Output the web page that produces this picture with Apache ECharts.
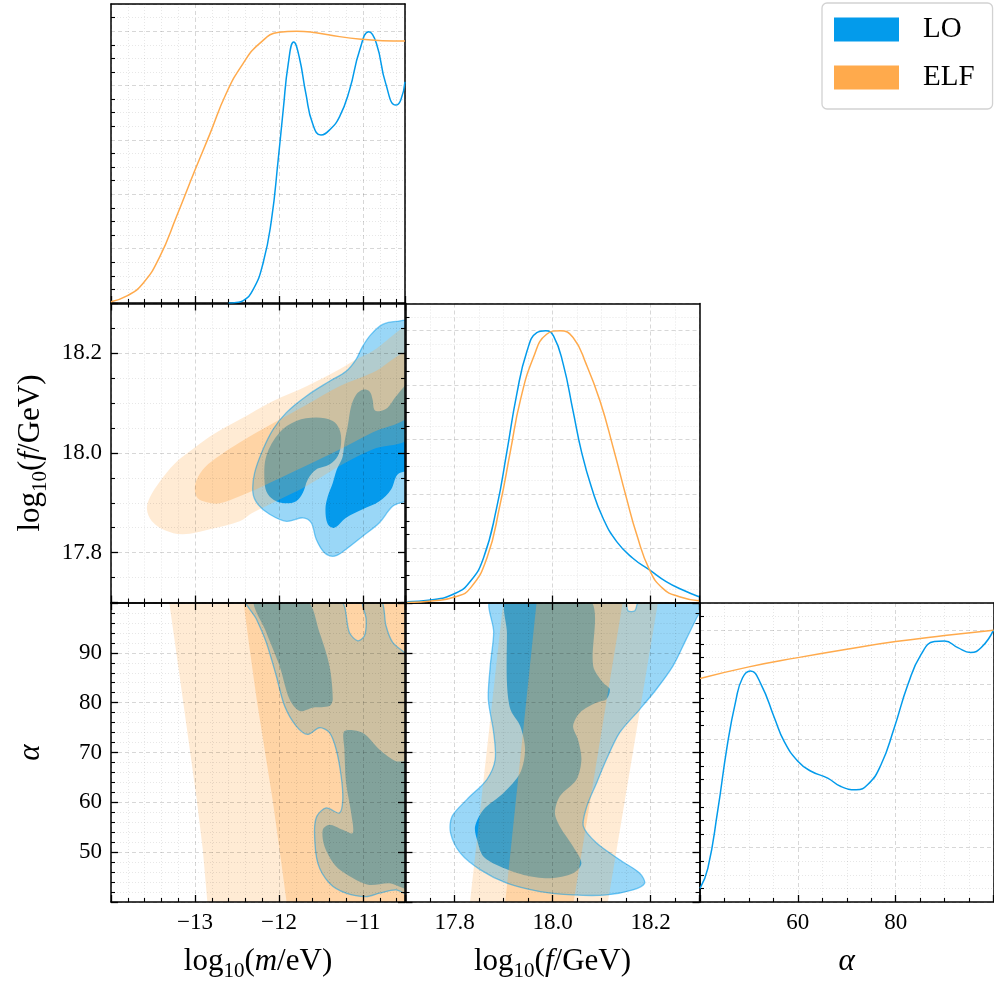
<!DOCTYPE html>
<html>
<head>
<meta charset="utf-8">
<script src="https://cdn.jsdelivr.net/npm/echarts@6/dist/echarts.min.js"></script>
<style>
  html, body { margin: 0; padding: 0; background: #fff; }
  #corner { width: 994px; height: 985px; }
</style>
</head>
<body>
<div id="corner"></div>
<script>
// tick labels
var mTicks = [-13, -12, -11];
var fTicks = [17.8, 18.0, 18.2];
var alphaTicksX = [60, 80];
var alphaTicksY = [50, 60, 70, 80, 90];

// 1D marginals: [value, normalised density]
var mLO = [[-12.6, 0], [-12.51, 0.002], [-12.43, 0.008], [-12.31, 0.048], [-12.19, 0.146],
  [-12.09, 0.305], [-12.01, 0.526], [-11.95, 0.71], [-11.89, 0.88], [-11.825, 0.96], [-11.76, 0.906],
  [-11.68, 0.77], [-11.6, 0.66], [-11.5, 0.618], [-11.4, 0.636], [-11.28, 0.685], [-11.16, 0.784],
  [-11.04, 0.93], [-10.93, 0.998], [-10.84, 0.955], [-10.73, 0.808], [-10.61, 0.728], [-10.55, 0.747],
  [-10.5, 0.814]];
var mELF = [[-14, 0.005], [-13.81, 0.026], [-13.62, 0.072], [-13.42, 0.17], [-13.22, 0.318], [-13.0, 0.489],
  [-12.82, 0.624], [-12.63, 0.77], [-12.43, 0.88], [-12.23, 0.955], [-12.0, 0.996], [-11.79, 1.0],
  [-11.56, 0.994], [-11.28, 0.98], [-11.0, 0.97], [-10.77, 0.965], [-10.5, 0.964]];

var fLO = [[17.7035, 0.003], [17.751, 0.009], [17.802, 0.034], [17.832, 0.077], [17.859, 0.163], [17.886, 0.348],
  [17.907, 0.556], [17.927, 0.766], [17.948, 0.925], [17.968, 0.993], [17.986, 1.0], [18.002, 0.981],
  [18.022, 0.876], [18.042, 0.704], [18.059, 0.556], [18.080, 0.421], [18.103, 0.311], [18.131, 0.224],
  [18.164, 0.163], [18.198, 0.12], [18.232, 0.077], [18.266, 0.046], [18.299, 0.021]];
var fELF = [[17.7035, 0], [17.758, 0.006], [17.802, 0.021], [17.832, 0.052], [17.866, 0.163], [17.893, 0.36],
  [17.914, 0.556], [17.934, 0.741], [17.961, 0.901], [17.988, 0.987], [18.015, 1.0], [18.042, 0.975],
  [18.069, 0.876], [18.097, 0.741], [18.124, 0.569], [18.151, 0.384], [18.172, 0.249], [18.198, 0.12],
  [18.225, 0.052], [18.259, 0.021], [18.299, 0.006]];

var alphaLO = [[40, 0.05], [41.6, 0.124], [43.6, 0.333], [45.6, 0.579], [47.3, 0.739], [48.7, 0.825],
  [50.3, 0.85], [52.5, 0.8], [55.2, 0.678], [57.2, 0.591], [60, 0.518], [62.7, 0.481], [66.1, 0.456],
  [68.8, 0.425], [71.9, 0.413], [74.3, 0.432], [77, 0.505], [79.7, 0.64], [82.5, 0.8], [85.2, 0.911],
  [87.9, 0.958], [90, 0.96], [92.7, 0.936], [95.3, 0.918], [97.5, 0.936], [100, 1.0]];
var alphaELF = [[40, 0.822], [50, 0.865], [60, 0.899], [70, 0.93], [80, 0.958], [90, 0.98], [100, 1.0]];

// 2D credible regions, outlines
// log10 m vs log10 f
var loOuterMF = [[-10.44, 18.262], [-10.607, 18.264], [-10.766, 18.258], [-10.904, 18.238], [-11.004, 18.214],
  [-11.082, 18.188], [-11.201, 18.164], [-11.399, 18.144], [-11.676, 18.114], [-11.913, 18.081],
  [-12.072, 18.047], [-12.191, 18.007], [-12.290, 17.960], [-12.310, 17.920], [-12.251, 17.897],
  [-12.112, 17.877], [-11.913, 17.863], [-11.716, 17.870], [-11.616, 17.860], [-11.557, 17.827],
  [-11.458, 17.800], [-11.340, 17.793], [-11.201, 17.807], [-11.004, 17.833], [-10.805, 17.860],
  [-10.647, 17.893], [-10.44, 17.913]];
var loInnerMF1 = [[-12.171, 17.940], [-12.151, 17.994], [-11.993, 18.041], [-11.795, 18.064], [-11.557, 18.071],
  [-11.360, 18.064], [-11.280, 18.047], [-11.260, 18.021], [-11.300, 17.994], [-11.399, 17.977],
  [-11.557, 17.967], [-11.657, 17.947], [-11.716, 17.920], [-11.795, 17.903], [-11.913, 17.899],
  [-12.032, 17.903], [-12.132, 17.917]];
var loInnerMF2 = [[-11.004, 18.127], [-10.924, 18.124], [-10.885, 18.107], [-10.865, 18.087], [-10.805, 18.084],
  [-10.707, 18.091], [-10.607, 18.114], [-10.44, 18.140], [-10.44, 17.970], [-10.588, 17.957],
  [-10.666, 17.927], [-10.805, 17.903], [-11.004, 17.887], [-11.201, 17.870], [-11.340, 17.850],
  [-11.419, 17.857], [-11.447, 17.887], [-11.419, 17.913], [-11.360, 17.940], [-11.312, 17.967],
  [-11.245, 17.991], [-11.221, 18.021], [-11.182, 18.054], [-11.141, 18.094], [-11.082, 18.117]];
var elfOuterMF = [[-10.44, 18.250], [-10.888, 18.204], [-11.078, 18.188], [-11.280, 18.168], [-11.672, 18.134],
  [-12.076, 18.104], [-12.468, 18.067], [-12.765, 18.039], [-13.002, 18.011], [-13.240, 17.979],
  [-13.418, 17.943], [-13.537, 17.911], [-13.572, 17.887], [-13.513, 17.863], [-13.359, 17.845],
  [-13.145, 17.837], [-12.824, 17.847], [-12.468, 17.863], [-12.314, 17.880], [-11.672, 17.934],
  [-11.280, 17.974], [-10.888, 18.007], [-10.44, 18.035]];
var elfInnerMF = [[-10.44, 18.201], [-10.888, 18.161], [-11.280, 18.134], [-11.672, 18.097], [-12.076, 18.059],
  [-12.468, 18.021], [-12.705, 17.995], [-12.884, 17.971], [-12.979, 17.947], [-13.002, 17.927],
  [-12.967, 17.909], [-12.860, 17.901], [-12.705, 17.899], [-12.468, 17.913], [-12.076, 17.943],
  [-11.672, 17.975], [-11.280, 18.007], [-10.888, 18.041], [-10.44, 18.079]];

// log10 m vs alpha
var loOuterMA = [[-12.388, 100.6], [-11.280, 100.6], [-11.162, 94.10], [-11.063, 92.41], [-10.983, 93.42],
  [-10.963, 96.78], [-11.004, 100.6], [-10.785, 100.6], [-10.726, 95.43], [-10.647, 92.09], [-10.44, 88.4],
  [-10.44, 41.6], [-10.607, 42.42], [-10.805, 41.76], [-10.963, 41.07], [-11.201, 41.76], [-11.399, 43.77],
  [-11.538, 47.80], [-11.577, 53.83], [-11.550, 57.18], [-11.438, 58.87], [-11.280, 57.86], [-11.241, 60.54],
  [-11.260, 65.23], [-11.319, 70.61], [-11.399, 73.97], [-11.518, 74.97], [-11.657, 73.63], [-11.795, 75.30],
  [-11.933, 79.32], [-12.032, 85.36], [-12.151, 92.09], [-12.270, 96.78]];
var loInnerMA1 = [[-12.290, 100.6], [-12.151, 94.10], [-11.993, 87.38], [-11.874, 80.67], [-11.755, 78.32],
  [-11.597, 79.00], [-11.399, 79.32], [-11.360, 80.67], [-11.399, 87.38], [-11.518, 94.10], [-11.676, 100.6]];
var loInnerMA2 = [[-11.221, 74.29], [-11.004, 73.97], [-10.805, 70.61], [-10.607, 68.25], [-10.44, 68.0],
  [-10.44, 42.9], [-10.686, 43.77], [-10.924, 43.43], [-11.082, 44.43], [-11.319, 47.11], [-11.458, 51.14],
  [-11.479, 54.50], [-11.399, 55.51], [-11.241, 54.50], [-11.122, 53.83], [-11.141, 57.86], [-11.201, 63.90],
  [-11.221, 70.61]];
var elfOuterMA = [[-13.311, 100.6], [-13.228, 90.74], [-13.145, 80.67], [-13.062, 70.61], [-12.979, 60.54],
  [-12.907, 50.47], [-12.850, 39.4], [-10.4, 39.4], [-10.4, 100.6]];
var elfInnerMA = [[-12.426, 100.6], [-12.349, 90.74], [-12.266, 80.67], [-12.171, 70.61], [-12.076, 60.54],
  [-11.993, 50.47], [-11.905, 39.4], [-10.4, 39.4], [-10.4, 100.6]];

// log10 f vs alpha
var loOuterFA = [[17.876, 100.6], [17.880, 94.10], [17.873, 87.38], [17.869, 80.67], [17.880, 73.97],
  [17.883, 68.59], [17.866, 64.57], [17.825, 60.54], [17.795, 57.18], [17.792, 53.83], [17.812, 49.81],
  [17.853, 46.45], [17.907, 43.77], [17.975, 42.08], [18.042, 41.41], [18.110, 41.41], [18.164, 42.42],
  [18.188, 43.77], [18.178, 45.78], [18.137, 48.46], [18.090, 51.82], [18.063, 55.16], [18.070, 59.19],
  [18.090, 63.90], [18.110, 68.59], [18.137, 73.97], [18.178, 78.66], [18.212, 82.69], [18.246, 87.38],
  [18.273, 92.75], [18.293, 96.78], [18.31, 100.6], [18.178, 100.6], [18.168, 98.45], [18.154, 98.45],
  [18.147, 100.6]];
var loInnerFA = [[17.907, 100.6], [18.076, 100.6], [18.083, 87.38], [18.103, 84.03], [18.117, 82.69],
  [18.110, 80.67], [18.090, 80.01], [18.056, 77.99], [18.042, 75.30], [18.052, 72.62], [18.059, 68.59],
  [18.049, 64.57], [18.015, 61.20], [18.005, 57.86], [18.015, 55.16], [18.042, 51.14], [18.059, 47.80],
  [18.042, 45.78], [17.995, 44.78], [17.941, 45.44], [17.893, 47.11], [17.859, 49.12], [17.846, 52.49],
  [17.842, 55.16], [17.859, 58.53], [17.900, 61.89], [17.934, 65.91], [17.944, 70.61], [17.934, 75.30],
  [17.914, 78.66], [17.907, 84.03], [17.907, 94.10]];
var elfOuterFA = [[17.900, 100.6], [18.216, 100.6], [18.112, 39.4], [17.831, 39.4]];
var elfInnerFA = [[17.968, 100.6], [18.144, 100.6], [18.042, 39.4], [17.903, 39.4]];

var BLUE = '#039BEB';
var ORANGE = '#FFAA4C';
var FONT = "'Liberation Serif', 'DejaVu Serif', serif";

var RICH = {
  a: { fontFamily: FONT, fontSize: 31, color: '#000', padding: [0, 0, 5, 0], verticalAlign: 'bottom' },
  s: { fontFamily: FONT, fontSize: 21, color: '#000', verticalAlign: 'bottom' },
  i: { fontFamily: FONT, fontSize: 31, color: '#000', fontStyle: 'italic', padding: [0, 0, 5, 0], verticalAlign: 'bottom' }
};

var scales = {
  m: { min: -14, max: -10.5, interval: 1, minor: 5, ticks: mTicks,
       fmt: function (v) { return '\u2212' + Math.abs(v); },
       name: '{a|log}{s|10}{a|(}{i|m}{a|/eV)}' },
  f: { min: 17.7, max: 18.3, minInterval: 0.2, maxInterval: 0.2, splitNumber: 3, minor: 4, ticks: fTicks,
       fmt: function (v) { return v.toFixed(1); },
       name: '{a|log}{s|10}{a|(}{i|f}{a|/GeV)}' },
  ax: { min: 40, max: 100, interval: 20, minor: 4, ticks: alphaTicksX, fmt: String, name: '{i|α}' },
  ay: { min: 40, max: 100, interval: 10, minor: 5, ticks: alphaTicksY, fmt: String, name: '{i|α}' },
  d: { min: 0, max: 1.1, interval: 0.2, minor: 4, ticks: [], fmt: String, name: '' }
};

var cols = [111, 405.5, 700];
var rows = [4, 303.5, 603];
var W = 294, H = 299;
var panels = [[0, 0], [1, 0], [1, 1], [2, 0], [2, 1], [2, 2]];
var xVar = ['m', 'f', 'ax'];
var yVar = [null, 'f', 'ay'];

function makeAxis(s, gi, pos, o) {
  return {
    type: 'value', gridIndex: gi, position: pos, min: s.min, max: s.max,
    interval: s.interval, minInterval: s.minInterval, maxInterval: s.maxInterval, splitNumber: s.splitNumber,
    z: 2,
    axisLine: { show: true, onZero: false, lineStyle: { color: '#000', width: 1.5 } },
    axisTick: { show: o.major, inside: true, length: 7, lineStyle: { color: '#000', width: 1.3 } },
    minorTick: { show: o.minor, splitNumber: s.minor, length: 4, lineStyle: { color: '#000', width: 1.1 } },
    splitLine: { show: o.grid, lineStyle: { color: 'rgba(0,0,0,0.2)', width: 0.8, type: [4, 3] } },
    minorSplitLine: { show: o.grid, lineStyle: { color: 'rgba(0,0,0,0.12)', width: 0.8, type: [1, 2] } },
    axisLabel: {
      show: o.label, margin: 9, fontFamily: FONT, fontSize: 23, color: '#000',
      formatter: function (v) {
        return s.ticks.some(function (t) { return Math.abs(t - v) < 1e-6; }) ? s.fmt(v) : '';
      }
    },
    name: o.label ? s.name : '',
    nameLocation: 'middle',
    nameGap: pos === 'left' ? 60 : 44,
    nameTextStyle: { rich: RICH }
  };
}

var grids = [], xAxes = [], yAxes = [];
panels.forEach(function (p, gi) {
  var r = p[0], c = p[1], diag = r === c;
  grids.push({ left: cols[c], top: rows[r], width: c === 2 ? W - 0.5 : W, height: H, outerBoundsMode: 'none' });
  var sx = scales[xVar[c]];
  var sy = diag ? scales.d : scales[yVar[r]];
  xAxes.push(makeAxis(sx, gi, 'bottom', { major: true, minor: true, grid: true, label: r === 2 }));
  xAxes.push(makeAxis(sx, gi, 'top', { major: !diag, minor: !diag, grid: false, label: false }));
  yAxes.push(makeAxis(sy, gi, 'left', { major: !diag, minor: true, grid: true, label: c === 0 && r > 0 }));
  yAxes.push(makeAxis(sy, gi, 'right', { major: !diag, minor: !diag, grid: false, label: false }));
});

function lineSeries(gi, name, pts, color) {
  return {
    type: 'line', name: name, xAxisIndex: 2 * gi, yAxisIndex: 2 * gi, z: 3,
    data: pts, showSymbol: false, smooth: 0.5, silent: true,
    lineStyle: { color: color, width: 1.5 }, itemStyle: { color: color }
  };
}

function polySeries(gi, pts, fill, stroke, smooth) {
  return {
    type: 'custom', xAxisIndex: 2 * gi, yAxisIndex: 2 * gi, z: 1, clip: true, silent: true,
    data: pts,
    renderItem: function (params, api) {
      if (params.dataIndex !== 0) return;
      return {
        type: 'polygon',
        shape: { points: pts.map(function (q) { return api.coord(q); }), smooth: smooth },
        style: { fill: fill || 'none', stroke: stroke || null, lineWidth: stroke ? 1.3 : 0 }
      };
    }
  };
}

var LO_OUT = 'rgba(3,155,235,0.4)', LO_IN = '#059AEC', LO_EDGE = 'rgba(3,155,235,0.5)';
var ELF_OUT = 'rgba(255,170,76,0.24)', ELF_IN = 'rgba(255,170,76,0.35)';

var series = [
  lineSeries(0, 'LO', mLO, BLUE), lineSeries(0, 'ELF', mELF, ORANGE),
  lineSeries(2, 'LO', fLO, BLUE), lineSeries(2, 'ELF', fELF, ORANGE),
  lineSeries(5, 'LO', alphaLO, BLUE), lineSeries(5, 'ELF', alphaELF, ORANGE),

  polySeries(1, loOuterMF, LO_OUT, null, 0.35),
  polySeries(1, loInnerMF1, LO_IN, null, 0.35),
  polySeries(1, loInnerMF2, LO_IN, null, 0.35),
  polySeries(1, elfOuterMF, ELF_OUT, null, 0.35),
  polySeries(1, elfInnerMF, ELF_IN, null, 0.35),
  polySeries(1, loOuterMF, null, LO_EDGE, 0.35),

  polySeries(3, loOuterMA, LO_OUT, null, 0.3),
  polySeries(3, loInnerMA1, LO_IN, null, 0.3),
  polySeries(3, loInnerMA2, LO_IN, null, 0.3),
  polySeries(3, elfOuterMA, ELF_OUT, null, 0),
  polySeries(3, elfInnerMA, ELF_IN, null, 0),
  polySeries(3, loOuterMA, null, LO_EDGE, 0.3),

  polySeries(4, loOuterFA, LO_OUT, null, 0.3),
  polySeries(4, loInnerFA, LO_IN, null, 0.3),
  polySeries(4, elfOuterFA, ELF_OUT, null, 0),
  polySeries(4, elfInnerFA, ELF_IN, null, 0),
  polySeries(4, loOuterFA, null, LO_EDGE, 0.3)
];

var chart = echarts.init(document.getElementById('corner'), null, { renderer: 'canvas' });
chart.setOption({
  animation: false,
  backgroundColor: '#fff',
  legend: {
    data: ['LO', 'ELF'], orient: 'vertical', left: 822, top: 3,
    padding: [12, 18, 17, 12], itemWidth: 65, itemHeight: 24, itemGap: 19, icon: 'rect',
    itemStyle: { borderWidth: 0 },
    backgroundColor: '#fff', borderColor: '#d2d2d2', borderWidth: 1.3, borderRadius: 5,
    textStyle: { fontFamily: FONT, fontSize: 29, color: '#000', lineHeight: 24, padding: [0, 0, 0, 19] },
    selectedMode: false
  },
  grid: grids,
  xAxis: xAxes,
  yAxis: yAxes,
  series: series
});
</script>
</body>
</html>
